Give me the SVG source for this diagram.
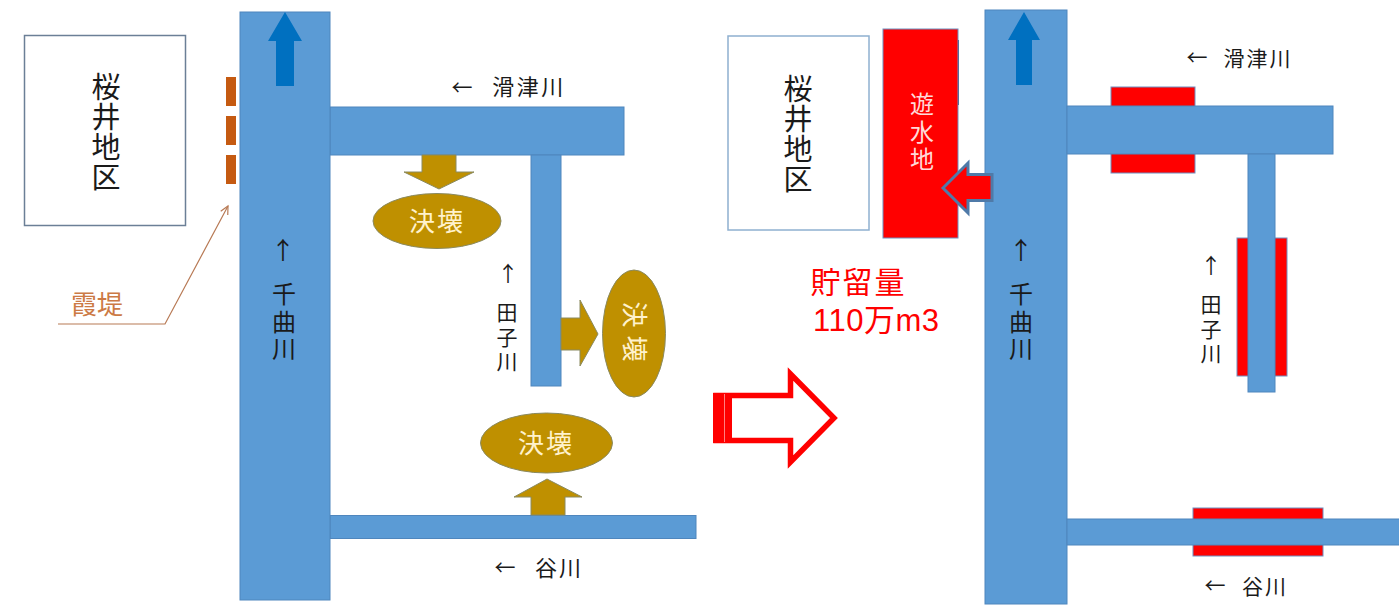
<svg xmlns="http://www.w3.org/2000/svg" width="1399" height="612" viewBox="0 0 1399 612">
<defs>
<marker id="ah" markerWidth="12" markerHeight="12" refX="9" refY="5" orient="auto" markerUnits="userSpaceOnUse"><path d="M1 1L9 5L1 9" fill="none" stroke="#b87a55" stroke-width="1.2"/></marker>
</defs>
<style>
text{font-family:"Noto Sans CJK JP","Liberation Sans",sans-serif;fill:#1a1a1a;text-anchor:middle}
.river{fill:#5b9bd5;stroke:#4f86bd;stroke-width:1}
.gold{fill:#bf9000;stroke:#8a8a60;stroke-width:1}
.red{fill:#f00;stroke:#6f8fc0;stroke-width:1}
.flow{fill:#0070c0}
.box{fill:#fff;stroke:#6b7f96;stroke-width:1.5}
.gt{fill:#fff2cc;font-size:26px;letter-spacing:2px}
.v{writing-mode:vertical-rl;text-orientation:upright;text-anchor:start}
.t29{font-size:29px;letter-spacing:1px}.t24{font-size:24px;letter-spacing:3.5px}.t22{font-size:21px;letter-spacing:3.5px}
.arr24{font-size:24px}.arr21{font-size:21px}
</style>
<rect width="1399" height="612" fill="#fff"/>
<g id="connectors">
<polyline points="58,324 165,324 228,206" fill="none" stroke="#b87a55" stroke-width="1.2" marker-end="url(#ah)"/>
</g>
<g id="left-sakurai"><rect class="box" x="24.5" y="35.5" width="161" height="190"/>
<text class="v t29" x="106" y="72">桜井地区</text></g>
<g id="left-kasumitei"><rect x="226" y="77" width="10" height="29" fill="#c55a11"/><rect x="226" y="116" width="10" height="29" fill="#c55a11"/><rect x="226" y="155" width="10" height="29" fill="#c55a11"/>
<text x="97" y="314" font-size="26" style="fill:#cc7a45">霞堤</text></g>
<g id="left-nametsu"><rect class="river" x="330" y="107" width="294" height="48"/>
<text class="arr21" x="462" y="95">←</text><text x="529" y="95" font-size="22" letter-spacing="2.500">滑津川</text></g>
<g id="left-tago"><rect class="river" x="531" y="155" width="30" height="231"/>
<text class="arr21" x="508" y="281">↑</text><text class="v t22" x="507" y="302">田子川</text></g>
<g id="left-tani"><rect class="river" x="330" y="515.5" width="366" height="23"/>
<text class="arr21" x="505" y="575">←</text><text x="559" y="576" font-size="22" letter-spacing="2">谷川</text></g>
<g id="left-chikuma"><rect class="river" x="240" y="12" width="90" height="588"/>
<polygon class="flow" points="285,12 302,41 294,41 294,86 276,86 276,41 268,41"/>
<text class="arr24" x="283" y="259">↑</text><text class="v t24" x="284" y="282">千曲川</text></g>
<g id="breach-1"><polygon class="gold" points="422,155 456,155 456,172 474,172 439,189 404,172 422,172"/>
<ellipse class="gold" cx="437" cy="221" rx="64" ry="27.5"/><text class="gt" x="437" y="231">決壊</text></g>
<g id="breach-2"><polygon class="gold" points="561,318 580,318 580,300 598,334 580,366 580,350 561,350"/>
<ellipse class="gold" cx="634" cy="333.5" rx="31.5" ry="63.5"/><text class="gt" style="letter-spacing:8px" transform="translate(634,335.500) rotate(90)" x="0" y="9">決壊</text></g>
<g id="breach-3"><polygon class="gold" points="531,515 565,515 565,497 582,497 547,479 514,497 531,497"/>
<ellipse class="gold" cx="546.5" cy="443" rx="66" ry="30"/><text class="gt" x="546" y="453">決壊</text></g>
<g id="big-arrow"><polygon points="716,395.5 790.5,395.5 790.5,374 834,418 790.5,462 790.5,440.500 716,440.500" fill="#fff" stroke="#f00" stroke-width="5.500"/>
<rect x="713" y="393" width="19" height="50" fill="#f00"/><rect x="724" y="394" width="1" height="48" fill="#ff8080"/></g>
<g id="right-sakurai"><rect x="728" y="36" width="141" height="194" fill="#fff" stroke="#8fb0d0" stroke-width="1.500"/>
<text class="v t29" x="798" y="74">桜井地区</text></g>
<g id="right-yusuichi"><rect class="red" x="883" y="29" width="75" height="209"/>
<line x1="958.500" y1="40" x2="958.500" y2="105" stroke="#4f6f9f"/>
<text class="v t24" x="922" y="92" style="fill:#ffd9d9">遊水地</text>
<text x="858.500" y="293" font-size="30" letter-spacing="2" style="fill:#f00">貯留量</text>
<text x="813" y="331" font-size="31" letter-spacing="0.500" style="fill:#f00;text-anchor:start;font-family:'Liberation Sans','Noto Sans CJK JP',sans-serif">110万m3</text></g>
<g id="right-chikuma"><rect class="river" x="985" y="10" width="82" height="594"/>
<polygon class="flow" points="1024,12 1040,40 1032,40 1032,85 1016,85 1016,40 1008,40"/>
<text class="arr24" x="1021" y="259">↑</text><text class="v t24" x="1021" y="282">千曲川</text></g>
<g id="right-inflow"><polygon points="943,188 968,163 968,174.500 992,174.500 992,200.500 968,200.500 968,213" fill="#f00" stroke="#4f7aa8" stroke-width="3"/></g>
<g id="right-nametsu"><rect class="red" x="1111" y="87" width="84" height="21"/><rect class="red" x="1111" y="152" width="84" height="21"/>
<rect class="river" x="1067" y="106" width="266" height="48"/>
<text class="arr21" x="1197" y="65">←</text><text x="1258" y="66" font-size="21" letter-spacing="2">滑津川</text></g>
<g id="right-tago"><rect class="red" x="1237" y="238" width="50" height="138"/>
<rect class="river" x="1248" y="154" width="27" height="238"/>
<text class="arr21" x="1211" y="273">↑</text><text class="v t22" x="1211" y="294">田子川</text></g>
<g id="right-tani"><rect class="red" x="1193" y="508" width="130" height="48"/>
<rect class="river" x="1067" y="519" width="333" height="26"/>
<text class="arr21" x="1215" y="593">←</text><text x="1265" y="594" font-size="21" letter-spacing="2">谷川</text></g>
</svg>
